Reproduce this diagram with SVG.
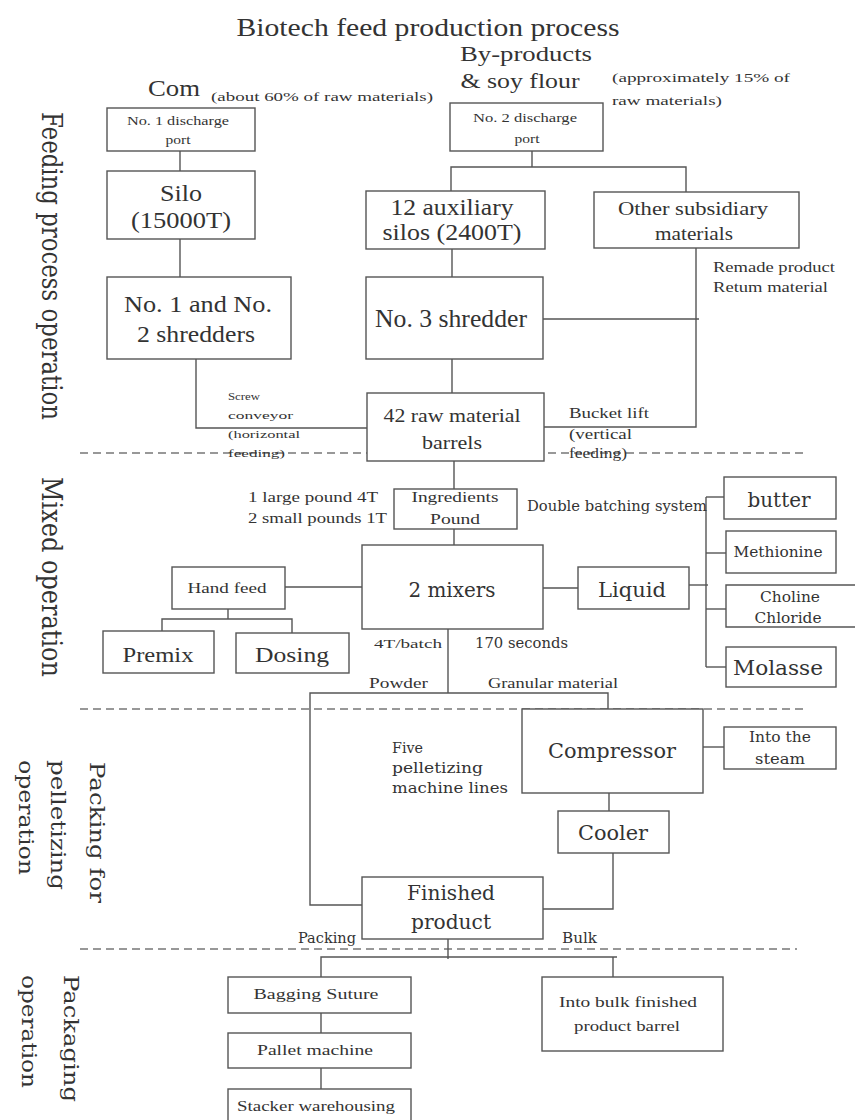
<svg xmlns="http://www.w3.org/2000/svg" width="855" height="1120" viewBox="0 0 855 1120">
  <style>
    .box { fill: #fff; stroke: #555; stroke-width: 1.4; }
    .ln { fill: none; stroke: #555; stroke-width: 1.4; }
    .dash { fill: none; stroke: #777; stroke-width: 1.6; stroke-dasharray: 8 5; }
    text { fill: #333; font-family: "Liberation Serif", "Times New Roman", serif; }
    .slab { font-family: "DejaVu Serif", "Liberation Serif", serif; }
    .side { font-family: "DejaVu Serif", "Liberation Serif", serif; }
    .c { text-anchor: middle; }
  </style>

  <rect width="855" height="1120" fill="#fff"/>

  <!-- title and raw material headings -->
  <text x="428" y="36" class="c" font-size="25" textLength="383" lengthAdjust="spacingAndGlyphs">Biotech feed production process</text>
  <text x="148" y="96" font-size="24" textLength="52" lengthAdjust="spacingAndGlyphs">Com</text>
  <text x="211" y="101" font-size="13" textLength="222" lengthAdjust="spacingAndGlyphs">(about 60% of raw materials)</text>
  <text x="526" y="61" class="c" font-size="22" textLength="132" lengthAdjust="spacingAndGlyphs">By-products</text>
  <text x="520" y="88" class="c" font-size="22" textLength="119" lengthAdjust="spacingAndGlyphs">&amp; soy flour</text>
  <text x="612" y="82" font-size="13" textLength="178" lengthAdjust="spacingAndGlyphs">(approximately 15% of</text>
  <text x="612" y="105" font-size="13" textLength="110" lengthAdjust="spacingAndGlyphs">raw materials)</text>

  <!-- section dividers -->
  <g id="dividers">
    <line class="dash" x1="80" y1="453" x2="807" y2="453"/>
    <line class="dash" x1="80" y1="709" x2="807" y2="709"/>
    <line class="dash" x1="80" y1="949" x2="797" y2="949"/>
  </g>

  <!-- section labels (vertical) -->
  <g id="section-labels">
    <text class="side" transform="translate(42,112) rotate(90)" font-size="28" textLength="308" lengthAdjust="spacingAndGlyphs">Feeding process operation</text>
    <text class="side" transform="translate(42,477) rotate(90)" font-size="28" textLength="200" lengthAdjust="spacingAndGlyphs">Mixed operation</text>
    <text class="side" transform="translate(90,762) rotate(90)" font-size="21" textLength="141" lengthAdjust="spacingAndGlyphs">Packing for</text>
    <text class="side" transform="translate(51,760) rotate(90)" font-size="21" textLength="130" lengthAdjust="spacingAndGlyphs">pelletizing</text>
    <text class="side" transform="translate(19,760) rotate(90)" font-size="21" textLength="115" lengthAdjust="spacingAndGlyphs">operation</text>
    <text class="side" transform="translate(64,975) rotate(90)" font-size="21" textLength="127" lengthAdjust="spacingAndGlyphs">Packaging</text>
    <text class="side" transform="translate(22,975) rotate(90)" font-size="21" textLength="113" lengthAdjust="spacingAndGlyphs">operation</text>
  </g>

  <!-- connectors -->
  <g id="connectors">
    <line class="ln" x1="180" y1="151" x2="180" y2="171"/>
    <line class="ln" x1="180" y1="239" x2="180" y2="277"/>
    <polyline class="ln" points="196,350 196,428 367,428"/>
    <line class="ln" x1="532" y1="151" x2="532" y2="167"/>
    <polyline class="ln" points="451,191 451,167 686,167 686,192"/>
    <line class="ln" x1="452" y1="249" x2="452" y2="277"/>
    <line class="ln" x1="452" y1="359" x2="452" y2="393"/>
    <polyline class="ln" points="696,248 696,427 544,427"/>
    <line class="ln" x1="543" y1="319" x2="699" y2="319"/>
    <line class="ln" x1="454" y1="461" x2="454" y2="489"/>
    <line class="ln" x1="454" y1="529" x2="454" y2="545"/>
    <line class="ln" x1="285" y1="587" x2="362" y2="587" stroke-width="2.4"/>
    <line class="ln" x1="228" y1="609" x2="228" y2="619"/>
    <polyline class="ln" points="162,631 162,619 292,619 292,633"/>
    <line class="ln" x1="543" y1="588" x2="578" y2="588" stroke-width="2"/>
    <line class="ln" x1="689" y1="585" x2="708" y2="585"/>
    <line class="ln" x1="706" y1="497" x2="706" y2="667"/>
    <line class="ln" x1="706" y1="497" x2="724" y2="497"/>
    <line class="ln" x1="706" y1="553" x2="726" y2="553"/>
    <line class="ln" x1="706" y1="609" x2="726" y2="609"/>
    <line class="ln" x1="706" y1="667" x2="726" y2="667"/>
    <line class="ln" x1="448" y1="629" x2="448" y2="693"/>
    <polyline class="ln" points="362,905 310,905 310,693 608,693 608,709"/>
    <line class="ln" x1="703" y1="747" x2="724" y2="747"/>
    <line class="ln" x1="609" y1="793" x2="609" y2="811"/>
    <polyline class="ln" points="613,853 613,909 543,909"/>
    <line class="ln" x1="448" y1="939" x2="448" y2="959"/>
    <polyline class="ln" points="321,977 321,957 617,957"/>
    <line class="ln" x1="613" y1="957" x2="613" y2="977"/>
    <line class="ln" x1="321" y1="1013" x2="321" y2="1033"/>
    <line class="ln" x1="321" y1="1068" x2="321" y2="1089"/>
  </g>

  <!-- connector labels -->
  <g id="connector-labels">
    <text x="228" y="400" font-size="11" textLength="32" lengthAdjust="spacingAndGlyphs">Screw</text>
    <text x="228" y="419" font-size="11" textLength="65" lengthAdjust="spacingAndGlyphs">conveyor</text>
    <text x="228" y="438" font-size="11" textLength="72" lengthAdjust="spacingAndGlyphs">(horizontal</text>
    <text x="228" y="457" font-size="11" textLength="57" lengthAdjust="spacingAndGlyphs">feeding)</text>
    <text x="569" y="418" font-size="14" textLength="80" lengthAdjust="spacingAndGlyphs">Bucket lift</text>
    <text x="569" y="439" font-size="14" textLength="63" lengthAdjust="spacingAndGlyphs">(vertical</text>
    <text x="569" y="458" font-size="14" textLength="58" lengthAdjust="spacingAndGlyphs">feeding)</text>
    <text x="713" y="272" font-size="14" textLength="122" lengthAdjust="spacingAndGlyphs">Remade product</text>
    <text x="713" y="292" font-size="14" textLength="115" lengthAdjust="spacingAndGlyphs">Retum material</text>
    <text x="248" y="502" font-size="15" textLength="130" lengthAdjust="spacingAndGlyphs">1 large pound 4T</text>
    <text x="248" y="523" font-size="15" textLength="139" lengthAdjust="spacingAndGlyphs">2 small pounds 1T</text>
    <text x="527" y="511" class="slab" font-size="14" textLength="180" lengthAdjust="spacingAndGlyphs">Double batching system</text>
    <text x="374" y="648" font-size="13" textLength="68" lengthAdjust="spacingAndGlyphs">4T/batch</text>
    <text x="475" y="648" class="slab" font-size="14" textLength="93" lengthAdjust="spacingAndGlyphs">170 seconds</text>
    <text x="369" y="688" font-size="15" textLength="59" lengthAdjust="spacingAndGlyphs">Powder</text>
    <text x="488" y="688" font-size="15" textLength="130" lengthAdjust="spacingAndGlyphs">Granular material</text>
    <text x="392" y="753" class="slab" font-size="14" textLength="31" lengthAdjust="spacingAndGlyphs">Five</text>
    <text x="392" y="773" class="slab" font-size="14" textLength="91" lengthAdjust="spacingAndGlyphs">pelletizing</text>
    <text x="392" y="793" class="slab" font-size="14" textLength="116" lengthAdjust="spacingAndGlyphs">machine lines</text>
    <text x="298" y="943" class="slab" font-size="14" textLength="58" lengthAdjust="spacingAndGlyphs">Packing</text>
    <text x="562" y="943" class="slab" font-size="14" textLength="35" lengthAdjust="spacingAndGlyphs">Bulk</text>
  </g>

  <!-- feeding nodes -->
  <g id="discharge-1">
    <rect class="box" x="107" y="108" width="148" height="43"/>
    <text x="178" y="125" class="c" font-size="12" textLength="102" lengthAdjust="spacingAndGlyphs">No. 1 discharge</text>
    <text x="178" y="144" class="c" font-size="12" textLength="25" lengthAdjust="spacingAndGlyphs">port</text>
  </g>
  <g id="silo">
    <rect class="box" x="107" y="171" width="148" height="68"/>
    <text x="181" y="201" class="c" font-size="23" textLength="42" lengthAdjust="spacingAndGlyphs">Silo</text>
    <text x="181" y="228" class="c" font-size="23" textLength="100" lengthAdjust="spacingAndGlyphs">(15000T)</text>
  </g>
  <g id="shredders-1-2">
    <rect class="box" x="107" y="277" width="184" height="82"/>
    <text x="198" y="312" class="c" font-size="24" textLength="148" lengthAdjust="spacingAndGlyphs">No. 1 and No.</text>
    <text x="196" y="342" class="c" font-size="24" textLength="118" lengthAdjust="spacingAndGlyphs">2 shredders</text>
  </g>
  <g id="discharge-2">
    <rect class="box" x="450" y="103" width="153" height="48"/>
    <text x="525" y="122" class="c" font-size="12" textLength="104" lengthAdjust="spacingAndGlyphs">No. 2 discharge</text>
    <text x="527" y="143" class="c" font-size="12" textLength="25" lengthAdjust="spacingAndGlyphs">port</text>
  </g>
  <g id="auxiliary-silos">
    <rect class="box" x="366" y="191" width="179" height="58"/>
    <text x="452" y="215" class="c" font-size="23" textLength="123" lengthAdjust="spacingAndGlyphs">12 auxiliary</text>
    <text x="452" y="240" class="c" font-size="23" textLength="139" lengthAdjust="spacingAndGlyphs">silos (2400T)</text>
  </g>
  <g id="other-materials">
    <rect class="box" x="594" y="192" width="205" height="56"/>
    <text x="693" y="215" class="c" font-size="18" textLength="150" lengthAdjust="spacingAndGlyphs">Other subsidiary</text>
    <text x="694" y="240" class="c" font-size="18" textLength="78" lengthAdjust="spacingAndGlyphs">materials</text>
  </g>
  <g id="shredder-3">
    <rect class="box" x="366" y="277" width="177" height="82"/>
    <text x="451" y="327" class="c" font-size="25" textLength="152" lengthAdjust="spacingAndGlyphs">No. 3 shredder</text>
  </g>
  <g id="raw-barrels">
    <rect class="box" x="367" y="393" width="177" height="68"/>
    <text x="452" y="422" class="c" font-size="18" textLength="137" lengthAdjust="spacingAndGlyphs">42 raw material</text>
    <text x="452" y="449" class="c" font-size="18" textLength="60" lengthAdjust="spacingAndGlyphs">barrels</text>
  </g>

  <!-- mixing nodes -->
  <g id="ingredients-pound">
    <rect class="box" x="394" y="489" width="123" height="40"/>
    <text x="455" y="502" class="c" font-size="14" textLength="87" lengthAdjust="spacingAndGlyphs">Ingredients</text>
    <text x="455" y="524" class="c" font-size="14" textLength="50" lengthAdjust="spacingAndGlyphs">Pound</text>
  </g>
  <g id="mixers">
    <rect class="box" x="362" y="545" width="181" height="84"/>
    <text x="452" y="597" class="c slab" font-size="21" textLength="87" lengthAdjust="spacingAndGlyphs">2 mixers</text>
  </g>
  <g id="hand-feed">
    <rect class="box" x="172" y="567" width="113" height="42"/>
    <text x="227" y="593" class="c" font-size="15" textLength="79" lengthAdjust="spacingAndGlyphs">Hand feed</text>
  </g>
  <g id="premix">
    <rect class="box" x="103" y="631" width="111" height="42"/>
    <text x="158" y="662" class="c" font-size="22" textLength="71" lengthAdjust="spacingAndGlyphs">Premix</text>
  </g>
  <g id="dosing">
    <rect class="box" x="236" y="633" width="113" height="40"/>
    <text x="292" y="662" class="c" font-size="22" textLength="74" lengthAdjust="spacingAndGlyphs">Dosing</text>
  </g>
  <g id="liquid">
    <rect class="box" x="578" y="567" width="111" height="42"/>
    <text x="632" y="597" class="c slab" font-size="21" textLength="68" lengthAdjust="spacingAndGlyphs">Liquid</text>
  </g>
  <g id="butter">
    <rect class="box" x="724" y="477" width="112" height="42"/>
    <text x="779" y="507" class="c slab" font-size="20" textLength="63" lengthAdjust="spacingAndGlyphs">butter</text>
  </g>
  <g id="methionine">
    <rect class="box" x="726" y="531" width="110" height="42"/>
    <text x="778" y="557" class="c slab" font-size="14" textLength="89" lengthAdjust="spacingAndGlyphs">Methionine</text>
  </g>
  <g id="choline-chloride">
    <path class="box" d="M856,585 H726 V627 H856"/>
    <text x="790" y="602" class="c slab" font-size="14" textLength="60" lengthAdjust="spacingAndGlyphs">Choline</text>
    <text x="788" y="623" class="c slab" font-size="14" textLength="67" lengthAdjust="spacingAndGlyphs">Chloride</text>
  </g>
  <g id="molasse">
    <rect class="box" x="726" y="647" width="110" height="40"/>
    <text x="778" y="675" class="c slab" font-size="21" textLength="90" lengthAdjust="spacingAndGlyphs">Molasse</text>
  </g>

  <!-- pelletizing nodes -->
  <g id="compressor">
    <rect class="box" x="522" y="709" width="181" height="84"/>
    <text x="612" y="758" class="c slab" font-size="20" textLength="128" lengthAdjust="spacingAndGlyphs">Compressor</text>
  </g>
  <g id="steam">
    <rect class="box" x="724" y="727" width="112" height="42"/>
    <text x="780" y="742" class="c slab" font-size="14" textLength="62" lengthAdjust="spacingAndGlyphs">Into the</text>
    <text x="780" y="764" class="c slab" font-size="14" textLength="50" lengthAdjust="spacingAndGlyphs">steam</text>
  </g>
  <g id="cooler">
    <rect class="box" x="558" y="811" width="111" height="42"/>
    <text x="613" y="840" class="c slab" font-size="20" textLength="70" lengthAdjust="spacingAndGlyphs">Cooler</text>
  </g>
  <g id="finished-product">
    <rect class="box" x="362" y="877" width="181" height="62"/>
    <text x="451" y="900" class="c slab" font-size="20" textLength="88" lengthAdjust="spacingAndGlyphs">Finished</text>
    <text x="451" y="929" class="c slab" font-size="20" textLength="80" lengthAdjust="spacingAndGlyphs">product</text>
  </g>

  <!-- packaging nodes -->
  <g id="bagging">
    <rect class="box" x="228" y="977" width="183" height="36"/>
    <text x="316" y="999" class="c" font-size="15" textLength="125" lengthAdjust="spacingAndGlyphs">Bagging Suture</text>
  </g>
  <g id="pallet">
    <rect class="box" x="228" y="1033" width="183" height="35"/>
    <text x="315" y="1055" class="c" font-size="15" textLength="116" lengthAdjust="spacingAndGlyphs">Pallet machine</text>
  </g>
  <g id="stacker">
    <rect class="box" x="228" y="1089" width="183" height="40"/>
    <text x="316" y="1111" class="c" font-size="15" textLength="158" lengthAdjust="spacingAndGlyphs">Stacker warehousing</text>
  </g>
  <g id="bulk-barrel">
    <rect class="box" x="542" y="977" width="181" height="74"/>
    <text x="628" y="1007" class="c" font-size="15" textLength="138" lengthAdjust="spacingAndGlyphs">Into bulk finished</text>
    <text x="627" y="1031" class="c" font-size="15" textLength="106" lengthAdjust="spacingAndGlyphs">product barrel</text>
  </g>
</svg>
